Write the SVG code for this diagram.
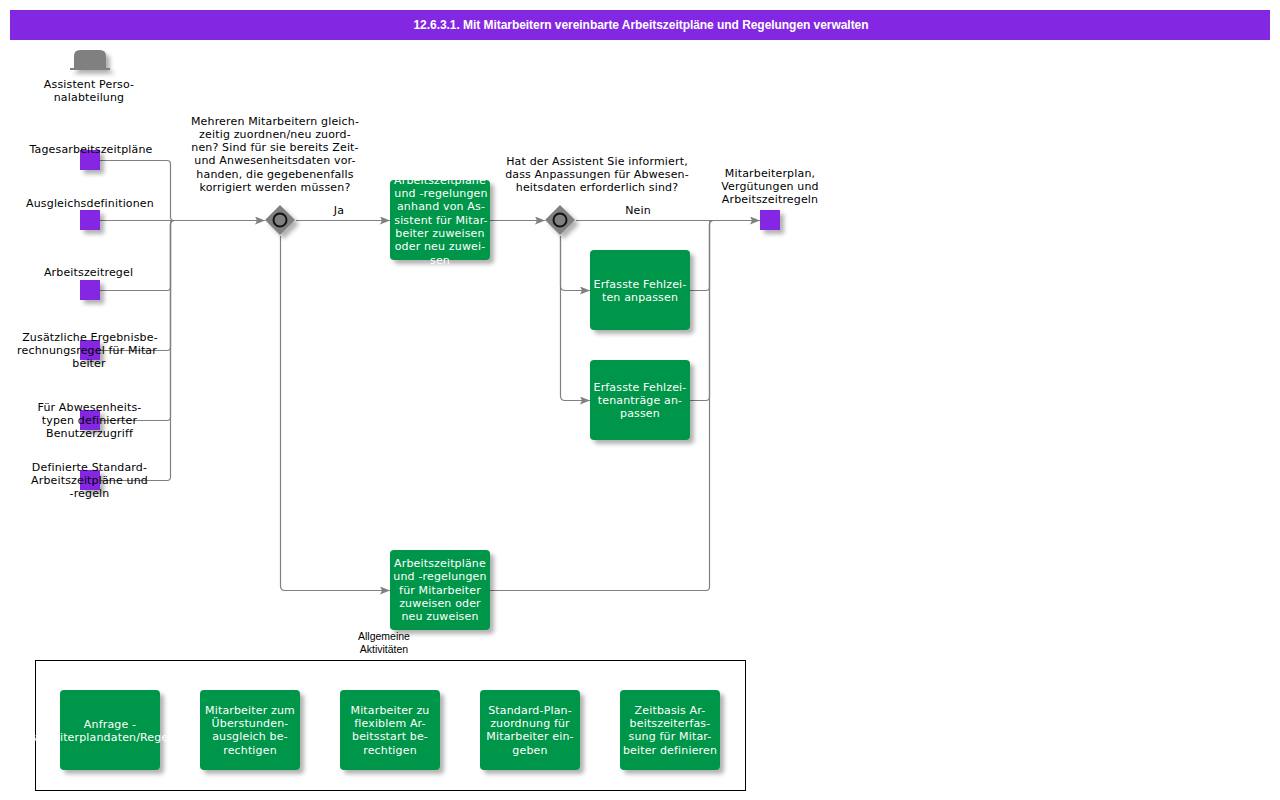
<svg xmlns="http://www.w3.org/2000/svg" width="1280" height="800" viewBox="0 0 1280 800">
<style>
text{font-family:"DejaVu Sans",Verdana,sans-serif;font-size:11px;letter-spacing:.16px;fill:#000;text-anchor:middle}
.w{fill:#fff}
.act{fill:#009649;filter:url(#sh)}
.sq{fill:#8427e2;filter:url(#sh)}
.gw{fill:#808080;filter:url(#sh)}
.c{fill:none;stroke:#808080;stroke-width:1.2}
.a{marker-end:url(#ar)}
.t{font-family:"Liberation Sans",Arial,sans-serif;font-size:12px;font-weight:bold;letter-spacing:-.05px}
.g{font-family:"Liberation Sans",Arial,sans-serif;font-size:10.500px;letter-spacing:0}
</style>
<defs>
<filter id="sh" x="-30%" y="-30%" width="170%" height="170%"><feDropShadow dx="4" dy="4" stdDeviation="2" flood-color="#000" flood-opacity="0.3"/></filter>
<marker id="ar" markerUnits="userSpaceOnUse" markerWidth="11" markerHeight="9" refX="10" refY="4" orient="auto"><path d="M0 0L10 4L0 8L2 4Z" fill="#808080"/></marker>
</defs>
<rect width="1280" height="800" fill="#fff"/>
<g id="title"><rect x="10" y="10" width="1260" height="30" fill="#8427e2"/><text x="641" y="29" class="w t">12.6.3.1. Mit Mitarbeitern vereinbarte Arbeitszeitpläne und Regelungen verwalten</text></g>
<g id="actor"><path class="gw" d="M74 68V56Q74 50 80 50H100Q106 50 106 56V68H110V70H70V68Z"/><text x="89" y="88">Assistent Perso-</text><text x="89" y="101">nalabteilung</text></g>
<g id="connectors">
<path class="c" d="M100 160.500H167Q170.500 160.500 170.500 164V217Q170.500 220.500 174 220.500"/>
<path class="c a" d="M100 220.500H265"/>
<path class="c" d="M100 290.500H167Q170.500 290.500 170.500 287V224Q170.500 220.500 174 220.500"/>
<path class="c" d="M100 350.500H167Q170.500 350.500 170.500 347V224Q170.500 220.500 174 220.500"/>
<path class="c" d="M100 420.500H167Q170.500 420.500 170.500 417V224Q170.500 220.500 174 220.500"/>
<path class="c" d="M100 480.500H167Q170.500 480.500 170.500 477V224Q170.500 220.500 174 220.500"/>
<path class="c a" d="M296 220.500H390"/>
<path class="c a" d="M490 220.500H545"/>
<path class="c a" d="M576 220.500H760"/>
<path class="c a" d="M280.500 236V586Q280.500 590.500 285 590.500H390"/>
<path class="c a" d="M560.500 236V286Q560.500 290.500 565 290.500H590"/>
<path class="c a" d="M560.500 236V396Q560.500 400.500 565 400.500H590"/>
<path class="c" d="M690 290.500H706Q709.500 290.500 709.500 287V224Q709.500 220.500 713 220.500"/>
<path class="c" d="M690 400.500H706Q709.500 400.500 709.500 397V224Q709.500 220.500 713 220.500"/>
<path class="c" d="M490 590.500H706Q709.500 590.500 709.500 587V224Q709.500 220.500 713 220.500"/>
</g>
<g id="in1"><rect class="sq" x="80" y="150" width="20" height="20"/><text x="91" y="153">Tagesarbeitszeitpläne</text></g>
<g id="in2"><rect class="sq" x="80" y="210" width="20" height="20"/><text x="90" y="207">Ausgleichsdefinitionen</text></g>
<g id="in3"><rect class="sq" x="80" y="280" width="20" height="20"/><text x="88.500" y="276">Arbeitszeitregel</text></g>
<g id="in4"><rect class="sq" x="80" y="340" width="20" height="20"/><text x="90" y="341">Zusätzliche Ergebnisbe-</text><text x="87" y="354">rechnungsregel für Mitar</text><text x="89" y="367">beiter</text></g>
<g id="in5"><rect class="sq" x="80" y="410" width="20" height="20"/><text x="89.500" y="411">Für Abwesenheits-</text><text x="89.500" y="424">typen definierter</text><text x="89.500" y="437">Benutzerzugriff</text></g>
<g id="in6"><rect class="sq" x="80" y="470" width="20" height="20"/><text x="89.500" y="471">Definierte Standard-</text><text x="89.500" y="484">Arbeitszeitpläne und</text><text x="89.500" y="497">-regeln</text></g>
<g id="gw1"><path class="gw" d="M280 205L295 220L280 235L265 220Z"/><circle cx="280" cy="220" r="6.500" fill="#808080" stroke="#111" stroke-width="2"/><text x="275" y="125">Mehreren Mitarbeitern gleich-</text><text x="275" y="138">zeitig zuordnen/neu zuord-</text><text x="275" y="151">nen? Sind für sie bereits Zeit-</text><text x="275" y="164">und Anwesenheitsdaten vor-</text><text x="275" y="178">handen, die gegebenenfalls</text><text x="275" y="191">korrigiert werden müssen?</text></g>
<text x="339" y="214">Ja</text>
<g id="a1"><rect class="act" x="390" y="180" width="100" height="80" rx="4"/><text class="w" x="440" y="184">Arbeitszeitpläne</text><text class="w" x="441" y="197">und -regelungen</text><text class="w" x="441" y="210">anhand von As-</text><text class="w" x="441" y="224">sistent für Mitar-</text><text class="w" x="440" y="237">beiter zuweisen</text><text class="w" x="440" y="250">oder neu zuwei-</text><text class="w" x="440" y="264">sen</text></g>
<g id="gw2"><path class="gw" d="M560 205L575 220L560 235L545 220Z"/><circle cx="560" cy="220" r="6.500" fill="#808080" stroke="#111" stroke-width="2"/><text x="597" y="165">Hat der Assistent Sie informiert,</text><text x="597" y="178">dass Anpassungen für Abwesen-</text><text x="597" y="191">heitsdaten erforderlich sind?</text></g>
<text x="638" y="214">Nein</text>
<g id="a2"><rect class="act" x="590" y="250" width="100" height="80" rx="4"/><text class="w" x="640" y="288">Erfasste Fehlzei-</text><text class="w" x="640" y="301">ten anpassen</text></g>
<g id="a3"><rect class="act" x="590" y="360" width="100" height="80" rx="4"/><text class="w" x="640" y="391">Erfasste Fehlzei-</text><text class="w" x="640" y="404">tenanträge an-</text><text class="w" x="640" y="417">passen</text></g>
<g id="out"><rect class="sq" x="760" y="210" width="20" height="20"/><text x="770" y="177">Mitarbeiterplan,</text><text x="770" y="190">Vergütungen und</text><text x="770" y="203">Arbeitszeitregeln</text></g>
<g id="a4"><rect class="act" x="390" y="550" width="100" height="80" rx="4"/><text class="w" x="440" y="567">Arbeitszeitpläne</text><text class="w" x="440" y="580">und -regelungen</text><text class="w" x="440" y="594">für Mitarbeiter</text><text class="w" x="440" y="607">zuweisen oder</text><text class="w" x="440" y="620">neu zuweisen</text></g>
<g id="general"><text class="g" x="384" y="640">Allgemeine</text><text class="g" x="384" y="653">Aktivitäten</text><rect x="35.500" y="660.500" width="710" height="130" fill="none" stroke="#000"/></g>
<g id="b1"><rect class="act" x="60" y="690" width="100" height="80" rx="4"/><text class="w" x="110" y="728">Anfrage -</text><text class="w" x="112" y="741">Mitarbeiterplandaten/Regelungen</text></g>
<g id="b2"><rect class="act" x="200" y="690" width="100" height="80" rx="4"/><text class="w" x="250" y="714">Mitarbeiter zum</text><text class="w" x="250" y="727">Überstunden-</text><text class="w" x="250" y="740">ausgleich be-</text><text class="w" x="250" y="754">rechtigen</text></g>
<g id="b3"><rect class="act" x="340" y="690" width="100" height="80" rx="4"/><text class="w" x="390" y="714">Mitarbeiter zu</text><text class="w" x="390" y="727">flexiblem Ar-</text><text class="w" x="390" y="740">beitsstart be-</text><text class="w" x="390" y="754">rechtigen</text></g>
<g id="b4"><rect class="act" x="480" y="690" width="100" height="80" rx="4"/><text class="w" x="530" y="714">Standard-Plan-</text><text class="w" x="530" y="727">zuordnung für</text><text class="w" x="530" y="740">Mitarbeiter ein-</text><text class="w" x="530" y="754">geben</text></g>
<g id="b5"><rect class="act" x="620" y="690" width="100" height="80" rx="4"/><text class="w" x="670" y="714">Zeitbasis Ar-</text><text class="w" x="670" y="727">beitszeiterfas-</text><text class="w" x="670" y="740">sung für Mitar-</text><text class="w" x="670" y="754">beiter definieren</text></g>
</svg>
